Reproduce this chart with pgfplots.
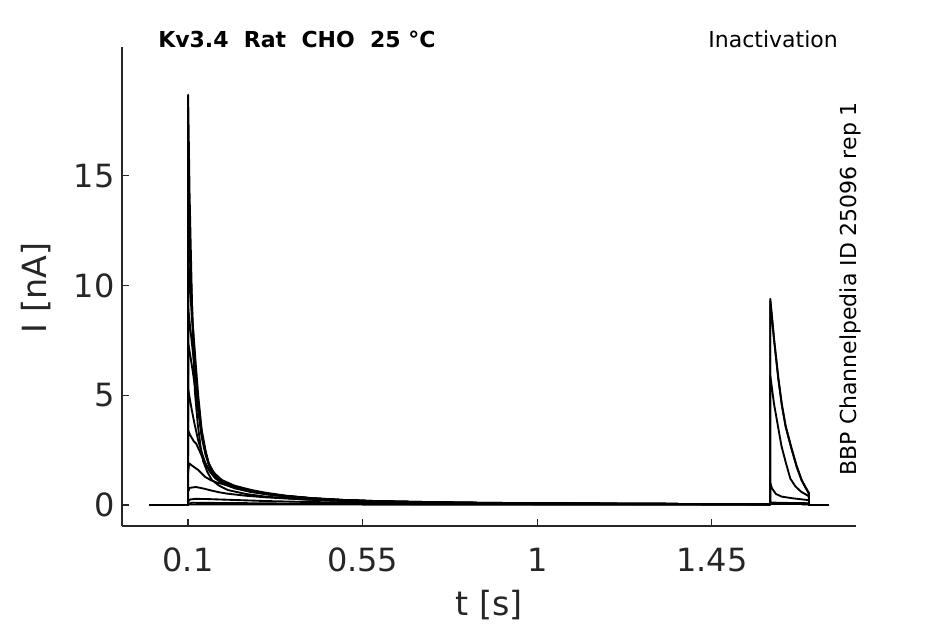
\documentclass[border=0pt]{standalone}
\usepackage{pgfplots}
\pgfplotsset{compat=1.18}
\usepackage{fontspec}
\setmainfont{DejaVu Sans}
\definecolor{axgray}{HTML}{262626}
\begin{document}
\begin{tikzpicture}
\path[use as bounding box] (0,0) rectangle (708.75pt,468pt);
\begin{axis}[
  at={(91.5pt,73.5pt)}, anchor=south west,
  scale only axis, width=550.5pt, height=359.25pt,
  xmin=-0.0701, xmax=1.8212, ymin=-0.958, ymax=20.88,
  axis lines*=left, axis line style={-, axgray, line width=0.8pt},
  tick align=inside, major tick length=5pt,
  tick style={axgray, line width=0.8pt},
  xtick={0.1,0.55,1,1.45}, xticklabels={0.1,0.55,1,1.45},
  ytick={0,5,10,15},
  /pgf/number format/assume math mode=true,
  ticklabel style={font=\fontsize{24}{24}\selectfont, text=axgray},
  xticklabel style={yshift=-13pt},
  yticklabel style={xshift=-2pt},
  cycle list={{black, solid, mark=none}},
  every axis plot post/.append style={black, line width=1.4pt, line join=round, mark=none},
  clip=false,
]
% T1
\addplot coordinates {(0,0) (0.1,0) (0.1003,18.7) (0.104,14.2) (0.108,11.0) (0.112,7.8) (0.118,5.1) (0.125,3.7) (0.132,2.7) (0.139,2.0) (0.15,1.5) (0.161,1.15) (0.18,0.88) (0.203,0.68) (0.25,0.5) (0.3,0.38) (0.4,0.25) (0.5,0.18) (0.7,0.11) (1.0,0.07) (1.3,0.05) (1.6,0.04) (1.6003,0.06) (1.7,0.05) (1.7003,0) (1.75,0)};
% T2
\addplot coordinates {(0,0) (0.1,0) (0.1003,14.0) (0.104,12.2) (0.108,10.1) (0.113,8.0) (0.12,5.9) (0.127,4.5) (0.135,3.3) (0.145,2.4) (0.155,1.8) (0.17,1.35) (0.19,1.05) (0.22,0.82) (0.26,0.64) (0.3,0.52) (0.35,0.41) (0.42,0.31) (0.5,0.23) (0.6,0.17) (0.8,0.11) (1.0,0.08) (1.3,0.05) (1.6,0.04) (1.6003,0.05) (1.7,0.05) (1.7003,0) (1.75,0)};
% T3
\addplot coordinates {(0,0) (0.1,0) (0.1003,11.3) (0.105,10.0) (0.11,8.5) (0.1137,7.9) (0.12,6.4) (0.1266,4.94) (0.1353,3.42) (0.145,2.5) (0.1524,1.95) (0.165,1.5) (0.187,1.14) (0.22,0.88) (0.264,0.68) (0.3,0.56) (0.35,0.43) (0.42,0.31) (0.5,0.23) (0.6,0.17) (0.8,0.11) (1.0,0.08) (1.3,0.05) (1.6,0.04) (1.6003,0.05) (1.7,0.04) (1.7003,0) (1.75,0)};
% T4
\addplot coordinates {(0,0) (0.1,0) (0.1003,9.0) (0.106,8.0) (0.113,6.9) (0.12,5.8) (0.127,4.6) (0.135,3.3) (0.145,2.4) (0.155,1.8) (0.17,1.38) (0.19,1.08) (0.22,0.84) (0.26,0.65) (0.3,0.53) (0.35,0.41) (0.42,0.3) (0.5,0.22) (0.6,0.16) (0.8,0.1) (1.0,0.07) (1.3,0.05) (1.6,0.04) (1.6003,0.05) (1.7,0.04) (1.7003,0) (1.75,0)};
% T5
\addplot coordinates {(0,0) (0.1,0) (0.1003,7.4) (0.106,6.8) (0.113,6.0) (0.12,5.1) (0.127,4.2) (0.135,3.1) (0.145,2.3) (0.155,1.75) (0.17,1.32) (0.19,1.04) (0.22,0.8) (0.26,0.62) (0.3,0.5) (0.35,0.39) (0.42,0.29) (0.5,0.21) (0.6,0.16) (0.8,0.1) (1.0,0.07) (1.3,0.05) (1.6,0.03) (1.6003,0.05) (1.7,0.04) (1.7003,0) (1.75,0)};
% T6
\addplot coordinates {(0,0) (0.1,0) (0.1003,5.3) (0.104,4.9) (0.11,4.3) (0.118,3.6) (0.126,2.96) (0.135,2.4) (0.145,1.9) (0.155,1.55) (0.17,1.22) (0.19,0.97) (0.22,0.76) (0.26,0.6) (0.3,0.49) (0.35,0.38) (0.42,0.28) (0.5,0.21) (0.6,0.15) (0.8,0.1) (1.0,0.07) (1.3,0.05) (1.6,0.03) (1.6003,0.05) (1.7,0.04) (1.7003,0) (1.75,0)};
% T7
\addplot coordinates {(0,0) (0.1,0) (0.1003,3.4) (0.105,3.2) (0.115,2.9) (0.121,2.8) (0.13,2.45) (0.14,2.05) (0.15,1.72) (0.165,1.38) (0.185,1.1) (0.21,0.88) (0.25,0.68) (0.3,0.52) (0.35,0.41) (0.42,0.3) (0.5,0.22) (0.6,0.16) (0.8,0.1) (1.0,0.07) (1.3,0.05) (1.6,0.03) (1.6003,0.06) (1.7,0.05) (1.7003,0) (1.75,0)};
% T8
\addplot coordinates {(0,0) (0.1,0) (0.1003,1.5) (0.103,1.9) (0.11,1.8) (0.126,1.6) (0.144,1.28) (0.16,1.12) (0.175,1.02) (0.19,0.95) (0.22,0.8) (0.26,0.64) (0.3,0.52) (0.35,0.41) (0.42,0.3) (0.5,0.22) (0.6,0.16) (0.8,0.1) (1.0,0.07) (1.3,0.05) (1.6,0.03) (1.6003,0.12) (1.62,0.1) (1.7,0.08) (1.7003,0) (1.75,0)};
% T9
\addplot coordinates {(0,0) (0.1,0) (0.1003,0.6) (0.104,0.78) (0.12,0.82) (0.14,0.75) (0.16,0.66) (0.18,0.58) (0.2,0.52) (0.25,0.42) (0.3,0.35) (0.35,0.3) (0.42,0.24) (0.5,0.19) (0.6,0.14) (0.8,0.1) (1.0,0.07) (1.3,0.05) (1.6,0.03) (1.6003,1.0) (1.605,0.75) (1.615,0.5) (1.63,0.38) (1.66,0.3) (1.6997,0.22) (1.7003,0) (1.75,0)};
% T10
\addplot coordinates {(0,0) (0.1,0) (0.1003,0.15) (0.105,0.25) (0.12,0.28) (0.15,0.27) (0.2,0.24) (0.25,0.21) (0.3,0.18) (0.4,0.14) (0.5,0.11) (0.7,0.08) (1.0,0.05) (1.3,0.04) (1.6,0.03) (1.6003,5.9) (1.61,4.6) (1.62,3.6) (1.629,2.7) (1.64,1.95) (1.652,1.2) (1.665,0.85) (1.68,0.6) (1.6997,0.4) (1.7003,0) (1.75,0)};
% T11
\addplot coordinates {(0,0) (0.1,0) (0.1003,0.05) (0.11,0.1) (0.2,0.09) (0.4,0.06) (0.7,0.04) (1.0,0.03) (1.6,0.02) (1.6003,9.4) (1.61,7.6) (1.621,5.8) (1.63,4.6) (1.64,3.6) (1.655,2.6) (1.668,1.8) (1.681,1.15) (1.69,0.85) (1.6997,0.55) (1.7003,0) (1.75,0)};
% T12
\addplot coordinates {(0,0) (0.1,0) (0.1003,0.02) (0.5,0.02) (1.0,0.01) (1.6,0.01) (1.6003,9.3) (1.61,7.5) (1.621,5.75) (1.63,4.55) (1.64,3.55) (1.655,2.55) (1.668,1.75) (1.681,1.12) (1.69,0.82) (1.6997,0.52) (1.7003,0) (1.75,0)};
\end{axis}
\node[anchor=west, inner sep=0pt, font=\fontsize{16.5}{16.5}\selectfont\bfseries] at (118.5pt,438.5pt) {Kv3.4\ \ Rat\ \ CHO\ \ 25 °C};
\node[anchor=east, inner sep=0pt, font=\fontsize{16.5}{16.5}\selectfont] at (628.5pt,438.5pt) {Inactivation};
\node[rotate=90, inner sep=0pt, font=\fontsize{16.5}{16.5}\selectfont] at (637.5pt,251.5pt) {BBP Channelpedia ID 25096 rep 1};
\node[font=\fontsize{25}{25}\selectfont, text=axgray] at (366.75pt,14.5pt) {t [s]};
\node[rotate=90, font=\fontsize{25}{25}\selectfont, text=axgray] at (27pt,252pt) {I [nA]};
\end{tikzpicture}
\end{document}
